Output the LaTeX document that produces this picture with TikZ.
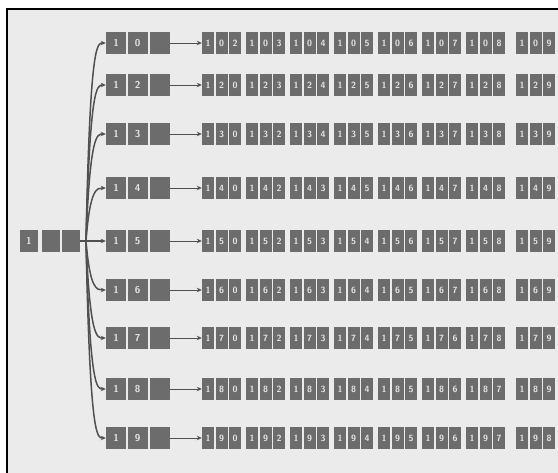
\documentclass[tikz,border=0pt]{standalone}
\usetikzlibrary{arrows.meta}
\definecolor{bggray}{HTML}{EBEBEB}
\definecolor{cellgray}{HTML}{6C6C6C}
\definecolor{linegray}{HTML}{505050}
\definecolor{celltext}{HTML}{E4E4E4}
\tikzset{
  cell/.style={fill=cellgray, draw=none, minimum width=20pt, minimum height=22pt,
    inner sep=0pt, text=celltext, font=\fontsize{10}{10}\selectfont\sffamily\bfseries},
  rootcell/.style={cell, minimum width=18pt},
  smallcell/.style={cell, minimum width=12pt, font=\fontsize{9}{9}\selectfont\sffamily\bfseries},
  fanline/.style={draw=linegray, line width=1.5pt, -{Stealth[length=5pt,width=4.5pt]}},
  link/.style={draw=linegray, line width=0.9pt, -{Stealth[length=5pt,width=4.5pt]}},
  frameline/.style={draw=black, line width=2pt}
}
\begin{document}
\begin{tikzpicture}[x=1pt, y=-1pt]
\useasboundingbox (0,0) rectangle (558,473);
\fill[white] (0,0) rectangle (558,473);
\fill[bggray] (7,9) rectangle (558,473);
\draw[frameline] (7,473) -- (7,9) -- (558,9);

% root
\node[rootcell] (root-a) at (29,241) {1};
\node[rootcell] (root-b) at (51,241) {};
\node[rootcell] (root-c) at (71,241) {};
\coordinate (fan) at (86,241);

\foreach \d/\y in {0/43, 2/85, 3/134, 4/188, 5/241, 6/290, 7/338, 8/389, 9/438} {
  \node[cell] (r\d-a) at (116,\y) {1};
  \node[cell] (r\d-b) at (137.5,\y) {\d};
  \node[cell] (r\d-c) at (160,\y) {};
  \foreach \e [count=\n from 0] in {0,2,3,4,5,6,7,8,9} {
    \ifnum\e=\d\relax\else
      \pgfmathtruncatemacro{\k}{\e<\d ? \n : \n-1}
      \pgfmathsetmacro{\gx}{\k==7 ? 516 : 202+44*\k}
      \node[smallcell] (g\d-\k-1) at (\gx+6,\y) {1};
      \node[smallcell] (g\d-\k-2) at (\gx+19.5,\y) {\d};
      \node[smallcell] (g\d-\k-3) at (\gx+33,\y) {\e};
    \fi
  }
  \draw[link] (r\d-c) -- (g\d-0-1);
}

% fan from root
\draw[fanline] (root-c) -- (r5-a);
\foreach \d/\y in {0/43, 2/85, 3/134, 4/188, 6/290, 7/338, 8/389, 9/438} {
  \draw[fanline] (fan) .. controls (90,\y) and (97,\y) .. (r\d-a.west);
}
\end{tikzpicture}
\end{document}
